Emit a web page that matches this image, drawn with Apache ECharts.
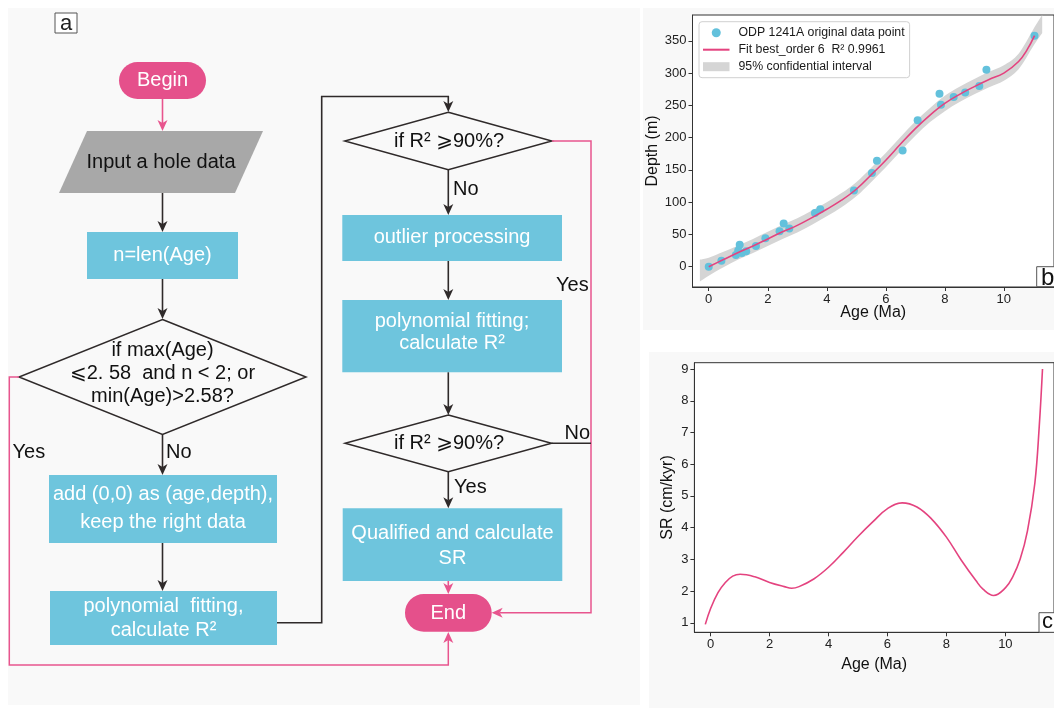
<!DOCTYPE html>
<html><head><meta charset="utf-8">
<script src="https://cdn.jsdelivr.net/npm/echarts@6/dist/echarts.min.js"></script>
<style>html,body{margin:0;padding:0;background:#fff}#main{width:1054px;height:708px}</style>
</head><body><div id="main"></div>
<script>
// ---------- data: panel b (depth-age) ----------
const pointAges   = [0, 0.43, 0.92, 1.0, 1.05, 1.12, 1.27, 1.6, 1.92, 2.4, 2.54, 2.73, 3.6, 3.78, 4.92, 5.53, 5.7, 6.57, 7.08, 7.82, 7.87, 8.3, 8.69, 9.17, 9.41, 11.04];
const pointDepths = [0, 9, 18, 25, 34, 21, 24, 32, 44, 55, 67, 59, 83, 89, 118, 145, 164, 180, 227, 268, 251, 263, 270, 280, 305, 358];
const fitAges   = [0, 0.5, 1, 1.5, 2, 2.5, 3, 3.5, 4, 4.5, 5, 5.5, 6, 6.5, 7, 7.5, 8, 8.5, 9, 9.5, 10, 10.5, 10.8, 11.04];
const fitDepths = [0, 11, 22, 32, 43, 54, 64, 76, 89, 103, 120, 142, 165, 190, 214, 235, 253, 267, 279, 290, 300, 318, 337, 358];
const bandAges  = [-0.3, 0, 0.5, 1, 1.5, 2, 2.5, 3, 3.5, 4, 4.5, 5, 5.5, 6, 6.5, 7, 7.5, 8, 8.5, 9, 9.5, 10, 10.5, 11, 11.3];
const bandLower = [-23, -14, -1, 11, 21, 32, 43, 53, 65, 78, 92, 109, 131, 154, 179, 203, 224, 241, 255, 267, 278, 288, 306, 342, 362];
const bandUpper = [11, 14, 23, 33, 43, 54, 65, 75, 87, 100, 114, 131, 153, 176, 201, 225, 246, 265, 279, 291, 302, 312, 330, 368, 390];
// ---------- data: panel c (sedimentation rate) ----------
const srAges   = [-0.18, 0, 0.25, 0.5, 0.75, 1.0, 1.5, 2.0, 2.5, 2.75, 3.0, 3.5, 4.0, 4.5, 5.0, 5.5, 6.0, 6.5, 7.0, 7.5, 8.0, 8.5, 9.0, 9.25, 9.6, 10.0, 10.25, 10.5, 10.75, 11.0, 11.15, 11.26];
const srValues = [0.95, 1.45, 1.95, 2.27, 2.47, 2.53, 2.45, 2.27, 2.14, 2.09, 2.14, 2.38, 2.75, 3.22, 3.72, 4.18, 4.6, 4.78, 4.65, 4.27, 3.7, 2.98, 2.33, 2.05, 1.86, 2.1, 2.45, 3.0, 3.9, 5.4, 7.2, 9.0];
// ---------- ticks & labels ----------
const ageTicks   = [0, 2, 4, 6, 8, 10];
const depthTicks = [0, 50, 100, 150, 200, 250, 300, 350];
const srTicks    = [1, 2, 3, 4, 5, 6, 7, 8, 9];
const legendNames = ['ODP 1241A original data point', 'Fit best_order 6  R\u00B2 0.9961', '95% confidential interval'];
const axisNames = { age: 'Age (Ma)', depth: 'Depth (m)', sr: 'SR (cm/kyr)' };
const panelLetters = ['a', 'b', 'c'];
// ---------- flowchart texts ----------
const flowTerminals = ['Begin', 'End'];
const flowInput = 'Input a hole data';
const flowProcesses = ['n=len(Age)', 'add (0,0) as (age,depth),\nkeep the right data', 'polynomial  fitting,\ncalculate R\u00B2',
                       'outlier processing', 'polynomial fitting;\ncalculate R\u00B2', 'Qualified and calculate\nSR'];
const flowDecisions = ['if max(Age)\n\u2A7D2. 58  and n < 2; or\nmin(Age)>2.58?', 'if R\u00B2 \u2A7E90%?', 'if R\u00B2 \u2A7E90%?'];
const flowBranches = ['Yes', 'No', 'No', 'Yes', 'No', 'Yes'];

// ---------- styles ----------
const FONT = '"Liberation Sans", Arial, "DejaVu Sans", sans-serif';
const PINK = '#E5508B', CYAN = '#6EC5DD', GRAY = '#A8A8A8', DARK = '#2F2A2A', PLINE = '#E8558E';
const LINEC = '#E4437F', DOTC = '#63C1DC', BANDC = '#D5D5D5';

const G = [];
function bg(x, y, w, h, c) { G.push({type: 'rect', z: -10, silent: true, shape: {x, y, width: w, height: h}, style: {fill: c}}); }
function box(x, y, w, h, fill, r) { G.push({type: 'rect', z: 10, shape: {x, y, width: w, height: h, r: r || 0}, style: {fill}}); }
function text(x, y, t, o) {
  o = o || {};
  G.push({type: 'text', z: o.z || 12, x, y, style: {
    text: t, fill: o.color || '#111', fontSize: o.size || 20, fontFamily: FONT,
    align: o.align || 'center', verticalAlign: 'middle', textAlign: o.align || 'center', textVerticalAlign: 'middle',
    lineHeight: o.lh || 23
  }});
}
function line(pts, color, w) { G.push({type: 'polyline', z: 11, shape: {points: pts}, style: {stroke: color, lineWidth: w || 1.6, fill: null}}); }
function head(x, y, dir, color) {
  const L = 11, W = 5, N = 8;
  let p;
  if (dir === 'down') p = [[x, y], [x - W, y - L], [x, y - N], [x + W, y - L]];
  else if (dir === 'up') p = [[x, y], [x - W, y + L], [x, y + N], [x + W, y + L]];
  else if (dir === 'left') p = [[x, y], [x + L, y - W], [x + N, y], [x + L, y + W]];
  G.push({type: 'polygon', z: 11, shape: {points: p}, style: {fill: color}});
}
function arrowV(x, y1, y2, color) { line([[x, y1], [x, y2 - 8]], color); head(x, y2, y2 > y1 ? 'down' : 'up', color); }
function diamond(cx, cy, hw, hh) {
  G.push({type: 'polygon', z: 10, shape: {points: [[cx, cy - hh], [cx + hw, cy], [cx, cy + hh], [cx - hw, cy]]}, style: {fill: null, stroke: DARK, lineWidth: 1.5}});
}
function labelBox(x, y, w, h) { G.push({type: 'rect', z: 20, shape: {x, y, width: w, height: h}, style: {fill: '#fff', stroke: '#555', lineWidth: 1}}); }

// panel backgrounds
bg(8, 8, 632, 697, '#F9F9F9');
bg(643, 8, 411, 322, '#F8F8F8');
bg(649, 352, 405, 356, '#F8F8F8');

// panel a label
labelBox(55, 13, 22, 20);
text(66, 23.5, panelLetters[0], {size: 22, color: '#222', z: 21});

// Begin
box(119, 62, 87, 37, PINK, 18.5); text(162.5, 80.5, flowTerminals[0], {color: '#fff'});
arrowV(162.5, 99, 131, PLINE);
// Input parallelogram
G.push({type: 'polygon', z: 10, shape: {points: [[87, 131], [263, 131], [235, 193], [59, 193]]}, style: {fill: GRAY}});
text(161, 162, flowInput, {color: '#111'});
arrowV(162.5, 193, 232, DARK);
// n=len(Age)
box(87, 232, 151, 47, CYAN); text(162.5, 255.5, flowProcesses[0], {color: '#fff'});
arrowV(162.5, 279, 319, DARK);
// decision 1
diamond(162.5, 377, 143.5, 57.5);
text(162.5, 373.5, flowDecisions[0], {lh: 23.3});
text(12.5, 452, flowBranches[0], {align: 'left'});
text(166, 452, flowBranches[1], {align: 'left'});
arrowV(162.5, 434.5, 475, DARK);
// add (0,0)
box(49, 475, 228, 68, CYAN); text(163, 508.5, flowProcesses[1], {color: '#fff', lh: 28.7});
arrowV(162.5, 543, 591, DARK);
// polynomial fitting 1
box(50, 591, 227, 54, CYAN); text(163.5, 618.5, flowProcesses[2], {color: '#fff', lh: 23.3});
// connector to column 2
line([[277, 622.7], [321.7, 622.7], [321.7, 96.5], [448.3, 96.5], [448.3, 104]], DARK);
head(448.3, 112, 'down', DARK);
// Yes path of decision 1 (pink)
line([[19, 377], [9.3, 377], [9.3, 665], [448.3, 665], [448.3, 640]], PLINE, 1.5);
head(448.3, 632, 'up', PLINE);

// decision 2
diamond(448.3, 141, 103.5, 28.7);
text(449, 141, flowDecisions[1]);
text(453, 189.5, flowBranches[2], {align: 'left'});
arrowV(448.3, 169.7, 215, DARK);
// outlier processing
box(342.3, 215, 219.7, 46, CYAN); text(452, 237.5, flowProcesses[3], {color: '#fff'});
arrowV(448.3, 261, 300, DARK);
// polynomial fitting 2
box(342.3, 300, 219.7, 72.3, CYAN); text(452, 332.5, flowProcesses[4], {color: '#fff', lh: 21.7});
arrowV(448.3, 372.3, 415, DARK);
// Yes path of decision 2
line([[552, 141], [591, 141], [591, 612.7], [500, 612.7]], PLINE, 1.5);
head(491.7, 612.7, 'left', PLINE);
text(556, 285, flowBranches[3], {align: 'left'});
// decision 3
diamond(448.3, 443.3, 103.2, 28.3);
text(449, 443.3, flowDecisions[2]);
line([[551.5, 443.3], [591, 443.3]], DARK, 1.5);
text(564.5, 433.5, flowBranches[4], {align: 'left'});
text(454, 487.5, flowBranches[5], {align: 'left'});
arrowV(448.3, 471.7, 508.3, DARK);
// qualified
box(342.7, 508.3, 219.6, 72.7, CYAN); text(452.5, 545.8, flowProcesses[5], {color: '#fff', lh: 25});
arrowV(448.3, 581, 594, PLINE);
// End
box(405, 594, 86.7, 37.7, PINK, 18.8); text(448.3, 613, flowTerminals[1], {color: '#fff'});

// panel letters b, c
labelBox(1036.7, 266.7, 30, 20);
text(1041, 278.5, panelLetters[1], {size: 24, color: '#111', align: 'left', z: 21});
labelBox(1039, 612.7, 30, 19.6);
text(1042, 621.5, panelLetters[2], {size: 22, color: '#111', align: 'left', z: 21});

// ---------- axes ----------
function axis(gi, min, max, ticks, name, gap) {
  return {
    type: 'value', gridIndex: gi, min, max, name, nameLocation: 'middle', nameGap: gap, nameMoveOverlap: false,
    nameTextStyle: {fontSize: 16, color: '#111', fontFamily: FONT},
    axisLine: {show: true, onZero: false, lineStyle: {color: '#333', width: 1}},
    axisTick: {show: true, inside: false, length: 4, customValues: ticks, lineStyle: {color: '#333'}},
    axisLabel: {show: true, customValues: ticks, fontSize: 13, color: '#222', fontFamily: FONT, margin: 6},
    splitLine: {show: false}
  };
}

// Catmull-Rom path helper for the confidence band (points come from api.coord)
function crPath(P) {
  let d = '';
  for (let i = 0; i < P.length - 1; i++) {
    const p0 = P[Math.max(i - 1, 0)], p1 = P[i], p2 = P[i + 1], p3 = P[Math.min(i + 2, P.length - 1)];
    const c1 = [p1[0] + (p2[0] - p0[0]) / 6, p1[1] + (p2[1] - p0[1]) / 6];
    const c2 = [p2[0] - (p3[0] - p1[0]) / 6, p2[1] - (p3[1] - p1[1]) / 6];
    d += ' C' + c1[0] + ',' + c1[1] + ' ' + c2[0] + ',' + c2[1] + ' ' + p2[0] + ',' + p2[1];
  }
  return d;
}

const option = {
  backgroundColor: '#ffffff',
  animation: false,
  textStyle: {fontFamily: FONT},
  graphic: {elements: G},
  grid: [
    {left: 692.5, top: 15, width: 369.1, height: 272, show: true, borderColor: '#333', borderWidth: 1, backgroundColor: '#fff', containLabel: false},
    {left: 694.4, top: 362.7, width: 368.1, height: 269.6, show: true, borderColor: '#333', borderWidth: 1, backgroundColor: '#fff', containLabel: false}
  ],
  xAxis: [
    axis(0, -0.55, 11.7, ageTicks, axisNames.age, 18),
    axis(1, -0.55, 11.65, ageTicks, axisNames.age, 24)
  ],
  yAxis: [
    axis(0, -31.5, 390, depthTicks, axisNames.depth, 32),
    axis(1, 0.7, 9.2, srTicks, axisNames.sr, 19)
  ],
  legend: {
    orient: 'vertical', left: 699, top: 21.7,
    data: [
      {name: legendNames[0], icon: 'circle'},
      {name: legendNames[1], icon: 'path://M0,0H26V2H0Z'},
      {name: legendNames[2], icon: 'rect'}
    ],
    itemWidth: 26.5, itemHeight: 9, itemGap: 5,
    padding: [5, 5, 5, 4],
    backgroundColor: '#fff', borderColor: '#d0d0d0', borderWidth: 1, borderRadius: 3,
    itemStyle: {borderWidth: 0},
    textStyle: {fontSize: 12.3, color: '#1a1a1a', fontFamily: FONT, padding: [0, 0, 0, 4]},
    selectedMode: false
  },
  series: [
    {
      type: 'custom', name: legendNames[2], xAxisIndex: 0, yAxisIndex: 0, silent: true, z: 1,
      data: bandAges.map((a, i) => [a, bandLower[i], bandUpper[i]]),
      encode: {x: 0, y: [1, 2]},
      itemStyle: {color: BANDC},
      renderItem: function (params, api) {
        if (params.dataIndex !== 0) return null;
        const up = bandAges.map((a, i) => api.coord([a, bandUpper[i]]));
        const lo = bandAges.map((a, i) => api.coord([a, bandLower[i]])).reverse();
        const d = 'M' + up[0][0] + ',' + up[0][1] + crPath(up) + ' L' + lo[0][0] + ',' + lo[0][1] + crPath(lo) + ' Z';
        return {type: 'path', shape: {pathData: d}, style: {fill: BANDC, stroke: null}};
      }
    },
    {
      type: 'scatter', name: legendNames[0], xAxisIndex: 0, yAxisIndex: 0, z: 3,
      symbolSize: 8, itemStyle: {color: DOTC, opacity: 1},
      data: pointAges.map((a, i) => [a, pointDepths[i]])
    },
    {
      type: 'line', name: legendNames[1], xAxisIndex: 0, yAxisIndex: 0, z: 4,
      smooth: 0.4, symbol: 'none', showSymbol: false,
      lineStyle: {color: LINEC, width: 1.6}, itemStyle: {color: LINEC},
      data: fitAges.map((a, i) => [a, fitDepths[i]])
    },
    {
      type: 'line', name: 'SR', xAxisIndex: 1, yAxisIndex: 1, z: 4,
      smooth: 0.4, symbol: 'none', showSymbol: false,
      lineStyle: {color: LINEC, width: 1.6}, itemStyle: {color: LINEC},
      data: srAges.map((a, i) => [a, srValues[i]])
    }
  ]
};
const chart = echarts.init(document.getElementById('main'), null, {renderer: 'canvas'});
chart.setOption(option);
</script></body></html>
